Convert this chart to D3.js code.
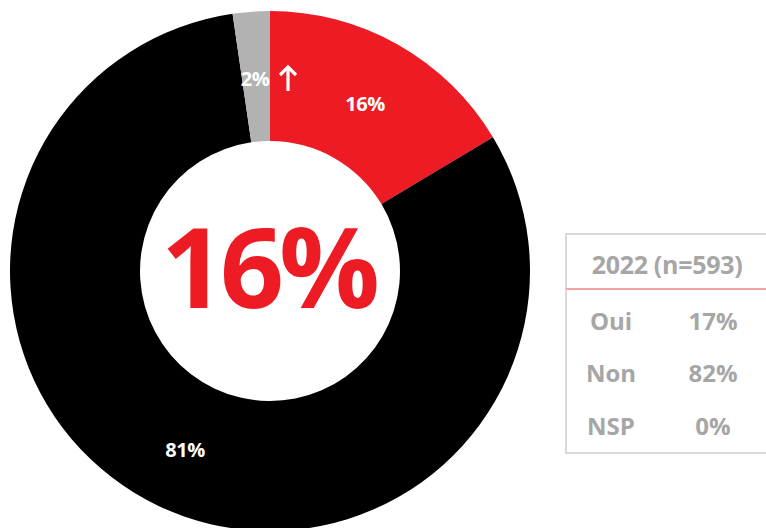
<!DOCTYPE html>
<html><head><meta charset="utf-8">
<script src="https://cdn.jsdelivr.net/npm/d3@7"></script>
<style>body{margin:0;background:#fff;} svg{display:block;}</style>
</head><body>
<svg id="c" width="766" height="528"></svg>
<script>
const categories = ["Oui", "Non", "NSP"];
const values = [16.4, 81.3, 2.3];
const sliceLabels = ["16%", "81%", "2%"];
const colors = ["#ED1C24", "#000000", "#B2B2B2"];
const centerLabel = "16%";
const tableTitle = "2022 (n=593)";
const tableCats = ["Oui", "Non", "NSP"];
const tableValues = ["17%", "82%", "0%"];

const font = "'Open Sans', sans-serif";
const svg = d3.select("#c");
const cx = 270, cy = 271, R = 260, r = 130;
const g = svg.append("g").attr("transform", `translate(${cx},${cy})`);
const pie = d3.pie().sort(null).value(d => d.v);
const data = pie(categories.map((c, i) => ({c, v: values[i], lab: sliceLabels[i], col: colors[i]})));
const arc = d3.arc().innerRadius(r).outerRadius(R);
g.selectAll("path.s").data(data).enter().append("path")
  .attr("d", arc).attr("fill", d => d.data.col);

// slice labels
const labelPos = [[95, -168], [-85, 178], [-15, -193]];
g.selectAll("text.s").data(data).enter().append("text")
  .attr("x", (d, i) => labelPos[i][0]).attr("y", (d, i) => labelPos[i][1])
  .attr("text-anchor", "middle").attr("dominant-baseline", "central")
  .attr("font-family", font).attr("font-weight", 700).attr("font-size", 20)
  .attr("letter-spacing", -0.5).attr("fill", "#fff").text(d => d.data.lab);
// up arrow
const ag = g.append("g").attr("transform", "translate(18,-193)")
  .attr("stroke", "#fff").attr("stroke-width", 3.2).attr("fill", "none")
  .attr("stroke-linecap", "butt");
ag.append("line").attr("x1", 0).attr("x2", 0).attr("y1", -11).attr("y2", 13);
ag.append("path").attr("d", "M-8,-3 L0,-11 L8,-3");

g.append("text").attr("x", -2).attr("y", -7).attr("text-anchor", "middle")
  .attr("dominant-baseline", "central").attr("font-family", font).attr("font-weight", 700)
  .attr("font-size", 112).attr("letter-spacing", -5).attr("fill", "#ED1C24").text(centerLabel);

// table
const tx = 566, ty = 234, tw = 220, th = 219;
svg.append("rect").attr("x", tx).attr("y", ty).attr("width", tw).attr("height", th)
  .attr("fill", "none").attr("stroke", "#D9D9D9").attr("stroke-width", 2);
svg.append("line").attr("x1", tx).attr("x2", 766).attr("y1", 289).attr("y2", 289)
  .attr("stroke", "#F4A3A6").attr("stroke-width", 2);
svg.append("text").attr("x", 667).attr("y", 264).attr("text-anchor", "middle")
  .attr("dominant-baseline", "central").attr("font-family", font).attr("font-weight", 700)
  .attr("font-size", 25).attr("letter-spacing", -0.3).attr("fill", "#A6A6A6").text(tableTitle);
const rowY = d3.scalePoint().domain(tableCats).range([320, 425]);
tableCats.forEach((c, i) => {
  svg.append("text").attr("x", 611).attr("y", rowY(c)).attr("text-anchor", "middle")
    .attr("dominant-baseline", "central").attr("font-family", font).attr("font-weight", 700)
    .attr("font-size", 24).attr("fill", "#A6A6A6").text(c);
  svg.append("text").attr("x", 713).attr("y", rowY(c)).attr("text-anchor", "middle")
    .attr("dominant-baseline", "central").attr("font-family", font).attr("font-weight", 700)
    .attr("font-size", 24).attr("fill", "#A6A6A6").text(tableValues[i]);
});
</script>
</body></html>
